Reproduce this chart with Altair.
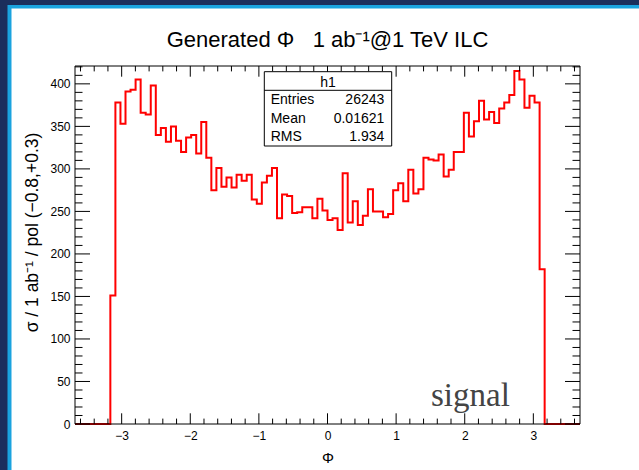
import altair as alt
import pandas as pd

# ---------------- data ----------------
X_MIN, X_MAX = -3.68, 3.68
Y_MAX = 421.0
N_BINS = 100
counts = [
    0, 0, 0, 0, 0, 0, 0,
    151, 378, 353, 391, 393, 405, 366, 364, 398, 340,
    348, 332, 350, 333, 320, 337, 340, 318, 355, 313,
    275, 301, 279, 290, 278, 293, 286, 293, 264, 259,
    284, 292, 301, 242, 270, 268, 248, 249, 255, 255,
    242, 265, 251, 240, 242, 228, 295, 237, 262, 234,
    245, 276, 250, 250, 243, 247, 275, 283, 262, 299,
    271, 276, 313, 311, 310, 317, 291, 299, 320, 320,
    366, 338, 356, 380, 358, 367, 354, 371, 378, 387,
    415, 405, 372, 386, 378, 182,
    0, 0, 0, 0, 0, 0, 0,
]
x_major = [-3, -2, -1, 0, 1, 2, 3]
x_minor = [round(-3.6 + 0.2 * i, 2) for i in range(37) if abs(round(-3.6 + 0.2 * i, 2)) % 1 > 1e-6]
y_major = [0, 50, 100, 150, 200, 250, 300, 350, 400]
y_minor = [v for v in range(10, 421, 10) if v % 50 != 0]
stat_names = ["Entries", "Mean", "RMS"]
stat_values = ["26243", "0.01621", "1.934"]
title_text = "Generated \u03a6\u00a0\u00a0\u00a01 ab\u207b\u00b9@1 TeV ILC"
y_title = "\u03c3 / 1 ab\u207b\u00b9 / pol (\u22120.8,+0.3)"
x_title = "\u03a6"

# ---------------- layout ----------------
W, H = 505, 358
PL, PT, PR, PB = 75, 66, 59, 46
FONT = "Liberation Sans"

width_bin = (X_MAX - X_MIN) / N_BINS
edges = [X_MIN + i * width_bin for i in range(N_BINS)] + [X_MAX]
hist = pd.DataFrame({"v": edges, "w": counts + [counts[-1]]})

xs = alt.Scale(domain=[X_MIN, X_MAX], nice=False, zero=False)
ys = alt.Scale(domain=[0, Y_MAX], nice=False, zero=False)

x_axis = alt.Axis(
    values=x_major, format="d", ticks=False, tickSize=0, domain=False, grid=False,
    labelFont=FONT, labelFontSize=12, labelColor="black", labelPadding=6,
    title=x_title, titleFont=FONT, titleFontSize=15, titleFontWeight="normal",
    titleColor="black", titleY=33, titleBaseline="middle", zindex=1,
)
y_axis = alt.Axis(
    values=y_major, format="d", ticks=False, tickSize=0, domain=False, grid=False,
    labelFont=FONT, labelFontSize=12, labelColor="black", labelPadding=5,
    title=y_title, titleFont=FONT, titleFontSize=17.5, titleFontWeight="normal",
    titleColor="black", titleAngle=270, titleX=-43, titleY=166,
    titleAlign="center", titleBaseline="middle", zindex=1,
)
XE = alt.X("v:Q", scale=xs, axis=x_axis, title=x_title)
YE_LINE = alt.Y("w:Q", scale=ys, axis=y_axis, title=y_title)
YE_TICK = alt.Y("v:Q", scale=ys, axis=y_axis, title=y_title)

one = alt.Data(values=[{}])


def box(x1, x2, y1, y2, **kw):
    return alt.Chart(one).mark_rect(**kw).encode(
        x=alt.value(x1), x2=alt.value(x2), y=alt.value(y1), y2=alt.value(y2)
    )


navy = box(-PL, W + PR + 5, -PT, H + PB + 5, color="#1b2e5c")
cyan = box(7.5 - PL, W + PR + 5, 5 - PT, H + PB + 5, color="#1aa3df")
white = box(11.5 - PL, W + PR + 5, 8.5 - PT, H + PB + 5, color="white")

line = alt.Chart(hist).mark_line(
    interpolate="step-after", color="#ff0000", strokeWidth=2
).encode(x=XE, y=YE_LINE)


def xticks(vals, length):
    d = pd.DataFrame({"v": vals})
    bot = alt.Chart(d).mark_rule(color="black", strokeWidth=1).encode(
        x=XE, y=alt.value(H), y2=alt.value(H - length)
    )
    top = alt.Chart(d).mark_rule(color="black", strokeWidth=1).encode(
        x=XE, y=alt.value(0), y2=alt.value(length)
    )
    return [bot, top]


def yticks(vals, length):
    d = pd.DataFrame({"v": vals})
    left = alt.Chart(d).mark_rule(color="black", strokeWidth=1).encode(
        y=YE_TICK, x=alt.value(0), x2=alt.value(length)
    )
    right = alt.Chart(d).mark_rule(color="black", strokeWidth=1).encode(
        y=YE_TICK, x=alt.value(W - length), x2=alt.value(W)
    )
    return [left, right]


ticks = xticks(x_major, 10.7) + xticks(x_minor, 5.4) + yticks(y_major, 15) + yticks(y_minor, 7.5)

frame = box(0, W, 0, H, fillOpacity=0, stroke="black", strokeWidth=1)

# stats box
BX1, BX2, BY1, BY2 = 189.3, 316.7, 5.7, 80
stat_box = box(BX1, BX2, BY1, BY2, color="white", stroke="black", strokeWidth=1)
stat_sep = alt.Chart(one).mark_rule(color="black", strokeWidth=1).encode(
    x=alt.value(BX1), x2=alt.value(BX2), y=alt.value(24.3)
)


def label(txt, x, y, align="left", size=14, font=FONT, color="black", baseline="alphabetic", angle=0):
    return alt.Chart(one).mark_text(
        text=txt, align=align, baseline=baseline, font=font, fontSize=size, color=color, angle=angle
    ).encode(x=alt.value(x), y=alt.value(y))


stat_texts = [label("h1", (BX1 + BX2) / 2, 20.7, align="center")]
for i, (n, v) in enumerate(zip(stat_names, stat_values)):
    yb = 38.3 + i * 18.4
    stat_texts.append(label(n, 195.7, yb))
    stat_texts.append(label(v, 309.3, yb, align="right"))

title = label(title_text, W / 2, -19, align="center", size=22)
signal = label("signal", 356, 339.7, size=33, font="Liberation Serif", color="#444444")

chart = alt.layer(
    navy, cyan, white, line, *ticks, frame, stat_box, stat_sep, *stat_texts, title, signal
).properties(
    width=W, height=H,
    padding={"left": PL, "top": PT, "right": PR, "bottom": PB},
    autosize=alt.AutoSizeParams(type="none"),
    background="#1b2e5c",
).configure_view(strokeWidth=0)

chart.save("out.html", embed_options={"renderer": "svg", "actions": False})
